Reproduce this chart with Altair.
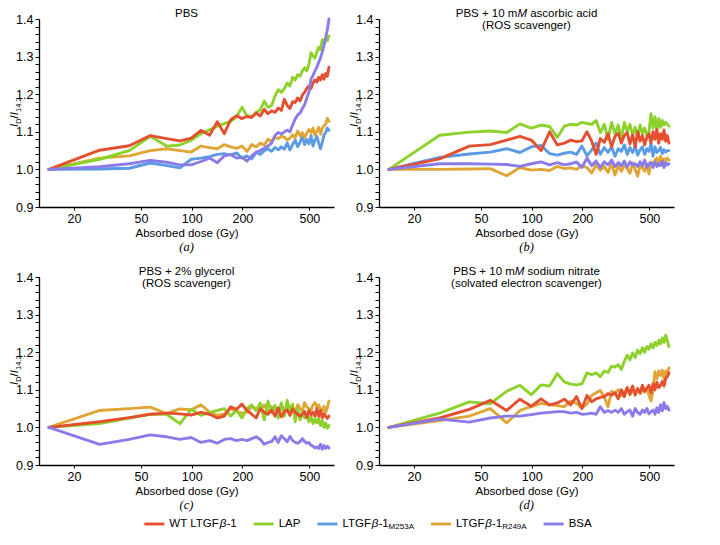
import altair as alt
import pandas as pd

# ---------------- data ----------------
doses = [14.2, 28.4, 42.6, 56.8, 71.0, 85.2, 99.4, 113.6, 127.8, 142.0,
         156.2, 170.4, 184.6, 198.8, 213.0, 227.2, 241.4, 255.6, 269.8, 284.0,
         298.2, 312.4, 326.6, 340.8, 355.0, 369.2, 383.4, 397.6, 411.8, 426.0,
         440.2, 454.4, 468.6, 482.8, 497.0, 511.2, 525.4, 539.6, 553.8, 568.0,
         582.2, 596.4, 610.6, 624.8, 639.0, 653.2]

series_names = ["WT", "LAP", "M253A", "R249A", "BSA"]
series_colors = ["#E4502F", "#8CD22B", "#5A9BE6", "#E0A535", "#8A7BEA"]
draw_order = ["M253A", "R249A", "LAP", "WT", "BSA"]

# (a) PBS
a_wt = [1.000, 1.051, 1.063, 1.090, 1.082, 1.076, 1.083, 1.104, 1.091, 1.127,
        1.095, 1.132, 1.143, 1.135, 1.141, 1.138, 1.150, 1.142, 1.160, 1.148,
        1.156, 1.152, 1.163, 1.157, 1.186, 1.170, 1.162, 1.180, 1.178, 1.190,
        1.182, 1.198, 1.205, 1.216, 1.222, 1.215, 1.230, 1.238, 1.232, 1.245,
        1.238, 1.252, 1.240, 1.255, 1.248, 1.272]
a_lap = [1.000, 1.027, 1.050, 1.088, 1.062, 1.065, 1.078, 1.095, 1.105, 1.115,
         1.122, 1.128, 1.140, 1.165, 1.143, 1.140, 1.152, 1.158, 1.182, 1.165,
         1.170, 1.195, 1.212, 1.205, 1.215, 1.230, 1.222, 1.245, 1.238, 1.252,
         1.248, 1.262, 1.270, 1.262, 1.280, 1.310, 1.302, 1.296, 1.312, 1.325,
         1.318, 1.345, 1.335, 1.350, 1.342, 1.355]
a_m253a = [1.000, 1.001, 1.003, 1.017, 1.010, 1.004, 1.027, 1.030, 1.034, 1.040,
           1.042, 1.038, 1.044, 1.030, 1.036, 1.028, 1.045, 1.040, 1.050, 1.055,
           1.048, 1.058, 1.052, 1.060, 1.054, 1.070, 1.052, 1.066, 1.078, 1.060,
           1.072, 1.088, 1.066, 1.080, 1.068, 1.090, 1.062, 1.078, 1.088, 1.070,
           1.055, 1.072, 1.092, 1.098, 1.110, 1.104]
a_r249a = [1.000, 1.030, 1.036, 1.050, 1.055, 1.050, 1.046, 1.062, 1.058, 1.055,
           1.066, 1.060, 1.056, 1.062, 1.048, 1.066, 1.060, 1.070, 1.064, 1.080,
           1.074, 1.085, 1.082, 1.088, 1.086, 1.078, 1.083, 1.092, 1.084, 1.102,
           1.090, 1.098, 1.085, 1.096, 1.106, 1.098, 1.110, 1.090, 1.102, 1.112,
           1.094, 1.110, 1.116, 1.120, 1.136, 1.128]
a_bsa = [1.000, 1.007, 1.015, 1.024, 1.019, 1.012, 1.012, 1.021, 1.030, 1.018,
         1.036, 1.040, 1.030, 1.032, 1.022, 1.036, 1.046, 1.050, 1.056, 1.062,
         1.070, 1.090, 1.098, 1.094, 1.100, 1.104, 1.100, 1.118, 1.134, 1.145,
         1.150, 1.162, 1.172, 1.190, 1.205, 1.240, 1.250, 1.262, 1.272, 1.285,
         1.297, 1.312, 1.330, 1.350, 1.372, 1.400]

# (b) PBS + ascorbic acid
b_wt = [1.000, 1.028, 1.062, 1.066, 1.078, 1.088, 1.078, 1.050, 1.100, 1.065,
        1.070, 1.078, 1.074, 1.076, 1.100, 1.075, 1.040, 1.082, 1.072, 1.095,
        1.060, 1.088, 1.096, 1.070, 1.090, 1.098, 1.068, 1.092, 1.060, 1.100,
        1.075, 1.090, 1.065, 1.085, 1.095, 1.070, 1.100, 1.080, 1.106, 1.070,
        1.095, 1.080, 1.105, 1.075, 1.090, 1.070]
b_lap = [1.000, 1.091, 1.099, 1.102, 1.098, 1.121, 1.110, 1.118, 1.114, 1.085,
         1.115, 1.120, 1.118, 1.125, 1.122, 1.120, 1.130, 1.098, 1.120, 1.080,
         1.125, 1.095, 1.118, 1.082, 1.125, 1.100, 1.120, 1.090, 1.112, 1.085,
         1.118, 1.095, 1.110, 1.090, 1.100, 1.148, 1.110, 1.140, 1.105, 1.135,
         1.112, 1.130, 1.118, 1.125, 1.120, 1.115]
b_m253a = [1.000, 1.032, 1.041, 1.046, 1.055, 1.045, 1.060, 1.064, 1.042, 1.038,
           1.043, 1.046, 1.040, 1.062, 1.036, 1.052, 1.070, 1.040, 1.058, 1.045,
           1.060, 1.035, 1.055, 1.048, 1.065, 1.040, 1.058, 1.045, 1.062, 1.038,
           1.052, 1.060, 1.040, 1.055, 1.048, 1.068, 1.035, 1.060, 1.045, 1.050,
           1.058, 1.042, 1.052, 1.046, 1.050, 1.050]
b_r249a = [1.000, 1.000, 1.001, 1.002, 0.983, 1.005, 0.998, 1.000, 0.997, 1.008,
           1.002, 1.004, 1.000, 1.010, 1.005, 0.990, 1.012, 0.998, 1.008, 0.992,
           1.015, 0.985, 1.010, 0.995, 1.012, 1.002, 0.990, 1.018, 1.000, 0.982,
           1.010, 1.005, 0.995, 1.015, 0.988, 1.020, 1.008, 1.025, 1.030, 1.012,
           1.035, 1.020, 1.028, 1.022, 1.030, 1.025]
b_bsa = [1.000, 1.015, 1.015, 1.014, 1.013, 1.008, 1.015, 1.020, 1.012, 1.018,
         1.012, 1.015, 1.020, 1.005, 1.030, 1.010, 1.022, 1.005, 1.020, 1.012,
         1.025, 1.008, 1.018, 1.010, 1.022, 1.006, 1.020, 1.012, 1.015, 1.008,
         1.020, 1.010, 1.025, 1.005, 1.015, 1.018, 1.005, 1.020, 1.008, 1.015,
         1.010, 1.022, 1.005, 1.018, 1.012, 1.015]

# (c) PBS + glycerol
c_wt = [1.000, 1.015, 1.026, 1.035, 1.038, 1.036, 1.033, 1.040, 1.035, 1.025,
        1.030, 1.055, 1.048, 1.062, 1.045, 1.035, 1.025, 1.050, 1.040, 1.035,
        1.046, 1.030, 1.052, 1.028, 1.042, 1.046, 1.032, 1.050, 1.040, 1.035,
        1.030, 1.036, 1.042, 1.026, 1.045, 1.034, 1.040, 1.030, 1.050, 1.030,
        1.045, 1.025, 1.036, 1.030, 1.024, 1.030]
c_lap = [1.000, 1.010, 1.025, 1.035, 1.035, 1.010, 1.048, 1.032, 1.040, 1.045,
         1.050, 1.030, 1.045, 1.025, 1.050, 1.060, 1.045, 1.065, 1.020, 1.070,
         1.040, 1.058, 1.025, 1.065, 1.030, 1.072, 1.040, 1.062, 1.015, 1.050,
         1.020, 1.040, 1.025, 1.035, 1.015, 1.030, 1.010, 1.022, 1.012, 1.025,
         1.005, 1.018, 1.000, 1.012, 0.998, 1.005]
c_r249a = [1.000, 1.045, 1.050, 1.054, 1.037, 1.049, 1.047, 1.060, 1.040, 1.032,
           1.036, 1.050, 1.042, 1.038, 1.040, 1.056, 1.048, 1.045, 1.060, 1.040,
           1.055, 1.045, 1.036, 1.062, 1.040, 1.050, 1.056, 1.044, 1.040, 1.060,
           1.050, 1.044, 1.066, 1.054, 1.050, 1.045, 1.060, 1.066, 1.055, 1.060,
           1.048, 1.044, 1.056, 1.040, 1.052, 1.070]
c_bsa = [1.000, 0.955, 0.968, 0.980, 0.975, 0.968, 0.973, 0.960, 0.965, 0.958,
         0.968, 0.970, 0.965, 0.968, 0.965, 0.970, 0.975, 0.968, 0.955, 0.960,
         0.962, 0.975, 0.960, 0.978, 0.970, 0.962, 0.976, 0.965, 0.960, 0.958,
         0.962, 0.970, 0.962, 0.958, 0.960, 0.952, 0.950, 0.945, 0.948, 0.944,
         0.955, 0.942, 0.952, 0.944, 0.950, 0.945]

# (d) PBS + sodium nitrate
d_wt = [1.000, 1.025, 1.048, 1.072, 1.045, 1.075, 1.056, 1.076, 1.060, 1.065,
        1.075, 1.060, 1.082, 1.050, 1.085, 1.068, 1.076, 1.080, 1.082, 1.090,
        1.086, 1.092, 1.076, 1.100, 1.082, 1.106, 1.090, 1.110, 1.086, 1.102,
        1.092, 1.112, 1.096, 1.104, 1.112, 1.092, 1.116, 1.100, 1.120, 1.106,
        1.112, 1.122, 1.110, 1.130, 1.135, 1.145]
d_lap = [1.000, 1.038, 1.068, 1.063, 1.096, 1.112, 1.087, 1.113, 1.110, 1.143,
         1.121, 1.115, 1.113, 1.116, 1.145, 1.140, 1.145, 1.135, 1.150, 1.146,
         1.163, 1.160, 1.167, 1.154, 1.176, 1.192, 1.180, 1.198, 1.186, 1.205,
         1.196, 1.212, 1.200, 1.215, 1.208, 1.222, 1.212, 1.226, 1.218, 1.232,
         1.222, 1.238, 1.226, 1.245, 1.230, 1.215]
d_r249a = [1.000, 1.018, 1.030, 1.050, 1.012, 1.045, 1.055, 1.064, 1.060, 1.058,
           1.055, 1.070, 1.064, 1.052, 1.062, 1.085, 1.092, 1.098, 1.080, 1.055,
           1.096, 1.090, 1.100, 1.084, 1.094, 1.102, 1.086, 1.098, 1.092, 1.104,
           1.090, 1.100, 1.094, 1.104, 1.086, 1.070, 1.098, 1.148, 1.130, 1.150,
           1.138, 1.152, 1.128, 1.150, 1.145, 1.158]
d_bsa = [1.000, 1.022, 1.014, 1.025, 1.030, 1.030, 1.034, 1.038, 1.040, 1.042,
         1.042, 1.038, 1.040, 1.035, 1.036, 1.038, 1.035, 1.055, 1.040, 1.045,
         1.040, 1.046, 1.040, 1.050, 1.035, 1.042, 1.046, 1.030, 1.050, 1.040,
         1.035, 1.046, 1.040, 1.050, 1.036, 1.042, 1.046, 1.035, 1.052, 1.040,
         1.060, 1.044, 1.066, 1.050, 1.056, 1.046]

x_ticks = [20, 50, 100, 200, 500]

# ---------------- layout / style ----------------
W, H = 295, 188
GAP = 14
FONT = "Liberation Sans"
COL = dict(zip(series_names, series_colors))

EM = {' ': .278, '%': .889, '(': .333, ')': .333, '+': .584, '-': .333, '.': .278, '/': .278,
      'A': .667, 'B': .667, 'D': .722, 'F': .611, 'G': .778, 'I': .278, 'L': .556, 'M': .833,
      'O': .778, 'P': .667, 'R': .722, 'S': .667, 'T': .611, 'W': .944,
      'a': .556, 'b': .556, 'c': .5, 'd': .556, 'e': .556, 'g': .556, 'i': .222, 'l': .222,
      'm': .833, 'n': .556, 'o': .556, 'r': .333, 's': .5, 't': .278, 'v': .5, 'y': .5,
      'β': .575}


def tw(s, size):
    return sum(EM.get(c, .556) for c in s) * size


def txt(t, x, y, size, style="normal", font=FONT, align="left", baseline="middle", angle=None):
    kw = dict(align=align, baseline=baseline, fontSize=size, font=font,
              fontStyle=style, color="black")
    if angle is not None:
        kw["angle"] = angle
    return alt.Chart(pd.DataFrame({"t": [t]})).mark_text(**kw).encode(
        x=alt.value(x), y=alt.value(y), text="t:N")


def rich_line(parts, cx, y, size):
    total = sum(tw(t, size) for t, _ in parts)
    x = cx - total / 2
    out = []
    for t, st in parts:
        lead = len(t) - len(t.lstrip(" "))
        out.append(txt(t.strip(" "), x + tw(" " * lead, size), y, size, style=st))
        x += tw(t, size)
    return out


def ytitle():
    cy = H * (1.4 - 1.152) / 0.5
    parts = [("I", "italic", 11.5, False), ("D", "normal", 7.5, True),
             ("/", "normal", 11.5, False), ("I", "italic", 11.5, False),
             ("14.2", "normal", 7.5, True)]
    total = sum(tw(t, s) for t, _, s, _ in parts)
    y = cy + total / 2
    out = []
    for t, st, s, sub in parts:
        out.append(txt(t, -21 + (2.5 if sub else 0), y, s, style=st,
                       baseline="alphabetic", angle=270))
        y -= tw(t, s)
    return out


yt = [round(0.9 + 0.02 * i, 2) for i in range(26)]
xscale = alt.Scale(type="log", domain=[12.4, 700], nice=False)
yscale = alt.Scale(domain=[0.9, 1.4], nice=False, zero=False)
xaxis = alt.Axis(values=x_ticks, format="d", title="Absorbed dose (Gy)", grid=False,
                 tickSize=3, labelPadding=2, titlePadding=3, labelOverlap=False)
yaxis = alt.Axis(values=yt, title=None, grid=False, tickSize=4, labelPadding=2,
                 labelOverlap=False,
                 labelExpr="abs(datum.value*10 - round(datum.value*10)) < 0.001 ? format(datum.value, '.1f') : ''")


def panel(data, title_lines, caption):
    layers = []
    for name in draw_order:
        if name not in data:
            continue
        df = pd.DataFrame({"dose": doses, "ratio": data[name], "series": name})
        layers.append(alt.Chart(df).mark_line(
            color=COL[name], strokeWidth=2.9, strokeJoin="round", strokeCap="round"
        ).encode(x=alt.X("dose:Q", scale=xscale, axis=xaxis),
                 y=alt.Y("ratio:Q", scale=yscale, axis=yaxis)))
    for i, line in enumerate(title_lines):
        layers += rich_line(line, W / 2, [-5, 7][i], 11.5)
    layers += ytitle()
    layers.append(txt(caption, W / 2, H + 40, 12.5, style="italic",
                      font="Liberation Serif", align="center"))
    return alt.layer(*layers).properties(width=W, height=H)


pa = panel(dict(WT=a_wt, LAP=a_lap, M253A=a_m253a, R249A=a_r249a, BSA=a_bsa),
           [[("PBS", "normal")]], "(a)")
pb = panel(dict(WT=b_wt, LAP=b_lap, M253A=b_m253a, R249A=b_r249a, BSA=b_bsa),
           [[("PBS + 10 m", "normal"), ("M", "italic"), (" ascorbic acid", "normal")],
            [("(ROS scavenger)", "normal")]], "(b)")
pc = panel(dict(WT=c_wt, LAP=c_lap, R249A=c_r249a, BSA=c_bsa),
           [[("PBS + 2% glycerol", "normal")], [("(ROS scavenger)", "normal")]], "(c)")
pd_ = panel(dict(WT=d_wt, LAP=d_lap, R249A=d_r249a, BSA=d_bsa),
            [[("PBS + 10 m", "normal"), ("M", "italic"), (" sodium nitrate", "normal")],
             [("(solvated electron scavenger)", "normal")]], "(d)")

# ---------------- legend (manual, to allow subscripts) ----------------
LS, SS = 11.5, 8
legend_entries = [
    ("WT", [("WT LTGF", "normal", LS, 0), ("β", "italic", LS, 0), ("-1", "normal", LS, 0)]),
    ("LAP", [("LAP", "normal", LS, 0)]),
    ("M253A", [("LTGF", "normal", LS, 0), ("β", "italic", LS, 0), ("-1", "normal", LS, 0),
               ("M253A", "normal", SS, 3)]),
    ("R249A", [("LTGF", "normal", LS, 0), ("β", "italic", LS, 0), ("-1", "normal", LS, 0),
               ("R249A", "normal", SS, 3)]),
    ("BSA", [("BSA", "normal", LS, 0)]),
]
LW = 2 * W + GAP + 62
LH = 12
ly = 6
gap = 17
widths = [25 + sum(tw(t, s) for t, _, s, _ in parts) for _, parts in legend_entries]
x = LW / 2 - 4 - (sum(widths) + gap * (len(widths) - 1)) / 2
leg_layers = []
for (name, parts), w in zip(legend_entries, widths):
    leg_layers.append(alt.Chart(pd.DataFrame({"s": [name]})).mark_rule(
        color=COL[name], strokeWidth=2.9).encode(
        x=alt.value(x), x2=alt.value(x + 20), y=alt.value(ly)))
    xx = x + 25
    for t, st, s, dy in parts:
        leg_layers.append(txt(t, xx, ly + dy, s, style=st))
        xx += tw(t, s)
    x += w + gap
legend = alt.layer(*leg_layers).properties(width=LW, height=LH)

grid = alt.vconcat(alt.hconcat(pa, pb, spacing=GAP), alt.hconcat(pc, pd_, spacing=GAP), spacing=12)
chart = alt.vconcat(grid, legend, spacing=6).properties(padding=0).configure_view(
    stroke=None
).configure_axis(
    domainColor="black", tickColor="black", labelColor="black", titleColor="black",
    labelFont=FONT, titleFont=FONT, labelFontSize=12.5, titleFontSize=11.5,
    titleFontWeight="normal", domainWidth=1.3, tickWidth=1
)

chart.save("out.html", embed_options={"renderer": "svg", "actions": False})
